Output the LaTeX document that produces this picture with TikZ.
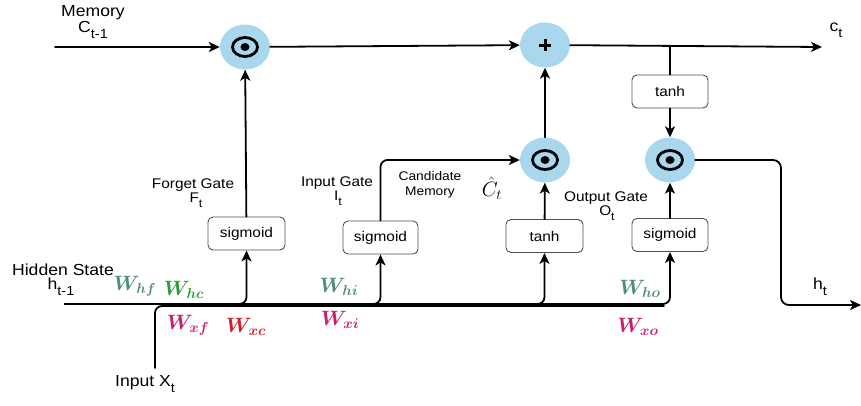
\documentclass[tikz,border=0pt]{standalone}
\usepackage{fontspec}
\setmainfont{Liberation Sans}[FakeStretch=1.1]
\usepackage{amsmath,bm}
\usetikzlibrary{arrows.meta,shapes.geometric}

\definecolor{cellblue}{HTML}{A9D8EE}
\definecolor{boxline}{HTML}{505050}
\definecolor{wteal}{HTML}{4E8C7E}
\definecolor{wgreen}{HTML}{2E9B3A}
\definecolor{wmagenta}{HTML}{CC1C6E}
\definecolor{wred}{HTML}{D0202A}

% lowered subscript for plain-text labels
\newcommand\lowsub[1]{\raisebox{-0.35em}{\scalebox{0.82}{#1}}}

\begin{document}
\begin{tikzpicture}[x=1pt,y=-1pt,
  wire/.style={line width=1.8pt, line cap=round},
  flow/.style={wire, -{Stealth[length=11pt,width=10pt,inset=3pt]}},
  opnode/.style={ellipse, fill=cellblue, minimum width=50pt, minimum height=45pt, inner sep=0pt},
  gatebox/.style={draw=boxline, line width=0.9pt, rounded corners=5pt, fill=white,
                  minimum height=33pt, inner sep=0pt, font=\fontsize{14}{16}\selectfont},
  lbl/.style={inner sep=0pt, font=\fontsize{14}{16}\selectfont},
  biglbl/.style={inner sep=0pt, font=\fontsize{16}{18}\selectfont},
  smalllbl/.style={inner sep=0pt, font=\fontsize{12.5}{14}\selectfont},
  wlbl/.style={inner sep=0pt, font=\fontsize{20}{22}\selectfont}]

\useasboundingbox (0,0) rectangle (861,405);

% --- operation bubbles ---
\node[opnode] (fm) at (245,47) {};
\node[opnode] (ad) at (545,45) {};
\node[opnode] (cm) at (545,160) {};
\node[opnode] (om) at (670,160) {};

% element-wise product symbols
\foreach \n in {fm,cm,om}{
  \draw[line width=2.8pt] (\n) ellipse (12.5pt and 9.5pt);
  \fill (\n) ellipse (4.5pt and 4pt);
}
% addition symbol
\draw[line width=3pt] ([xshift=-6pt]ad.center) -- ([xshift=6pt]ad.center);
\draw[line width=3pt] ([yshift=-6pt]ad.center) -- ([yshift=6pt]ad.center);

% --- gate boxes ---
\node[gatebox, minimum width=77pt] (fs) at (246.5,233.5) {sigmoid};
\node[gatebox, minimum width=75pt] (is) at (380.5,237.5) {sigmoid};
\node[gatebox, minimum width=77pt] (ct) at (544.5,236) {tanh};
\node[gatebox, minimum width=76pt] (os) at (670,235) {sigmoid};
\node[gatebox, minimum width=76pt] (th) at (670,91.5) {tanh};

% --- free ends of connectors ---
\coordinate (mstart) at (55,47);
\coordinate (ctend) at (822,47);
\coordinate (tap) at (670,47);
\coordinate (hstart) at (65,304);
\coordinate (xstart) at (155,368);
\coordinate (xend) at (664,306);
\coordinate (hturn) at (781,305);
\coordinate (hend) at (861,305);

% --- cell state path ---
\draw[flow] (mstart) -- (fm);
\draw[flow] (fm) -- (ad);
\draw[flow] (ad) -- (ctend);
\draw[wire] (tap) -- (th.north);
\draw[flow] (th) -- (om);
\draw[flow] (cm) -- (ad);
\draw[flow] (fs) -- (fm);
\draw[flow] (ct) -- (cm);
\draw[flow] (os) -- (om);
\draw[flow, rounded corners=7pt] (is.north) |- (cm);

% --- hidden state output ---
\draw[flow, rounded corners=8pt] (om.east) -| (hturn) -- (hend);

% --- hidden state and input buses ---
\draw[wire, rounded corners=7pt] (xstart) |- (xend);
\draw[flow, rounded corners=7pt] (hstart) -| (fs.south);
\draw[flow, rounded corners=7pt] (hstart) -| (is.south);
\draw[flow, rounded corners=7pt] (hstart) -| (ct.south);
\draw[flow, rounded corners=7pt] (hstart) -| (os.south);

% --- text labels ---
\node[biglbl] (lmem) at (93,13) {Memory};
\node[biglbl] (lcprev) at (93,30) {C\lowsub{t-1}};
\node[biglbl] (lct) at (836,30) {c\lowsub{t}};
\node[lbl] (lfg) at (193,185) {Forget Gate};
\node[lbl] (lft) at (196,200) {F\lowsub{t}};
\node[lbl] (lig) at (337,183) {Input Gate};
\node[lbl] (lit) at (338,198) {I\lowsub{t}};
\node[smalllbl] (lcand) at (430,176) {Candidate};
\node[smalllbl] (lcmem) at (430,192) {Memory};
\node[inner sep=0pt, font=\fontsize{21}{24}\selectfont] (lchat) at (492,188) {$\hat{C}_t$};
\node[lbl] (log) at (606,198) {Output Gate};
\node[lbl] (lot) at (607,213) {O\lowsub{t}};
\node[biglbl] (lhs) at (63,270) {Hidden State};
\node[biglbl] (lhprev) at (61,287) {h\lowsub{t-1}};
\node[biglbl] (lin) at (145,384) {Input X\lowsub{t}};
\node[biglbl] (lht) at (820,287) {h\lowsub{t}};

% --- weight labels ---
\node[wlbl, text=wteal]    (whf) at (135,286) {$\bm{W_{hf}}$};
\node[wlbl, text=wgreen]   (whc) at (184,290) {$\bm{W_{hc}}$};
\node[wlbl, text=wmagenta] (wxf) at (188,325) {$\bm{W_{xf}}$};
\node[wlbl, text=wred]     (wxc) at (246,327) {$\bm{W_{xc}}$};
\node[wlbl, text=wteal]    (whi) at (339,287) {$\bm{W_{hi}}$};
\node[wlbl, text=wmagenta] (wxi) at (340,320) {$\bm{W_{xi}}$};
\node[wlbl, text=wteal]    (who) at (640,289) {$\bm{W_{ho}}$};
\node[wlbl, text=wmagenta] (wxo) at (638,327) {$\bm{W_{xo}}$};

\end{tikzpicture}
\end{document}
